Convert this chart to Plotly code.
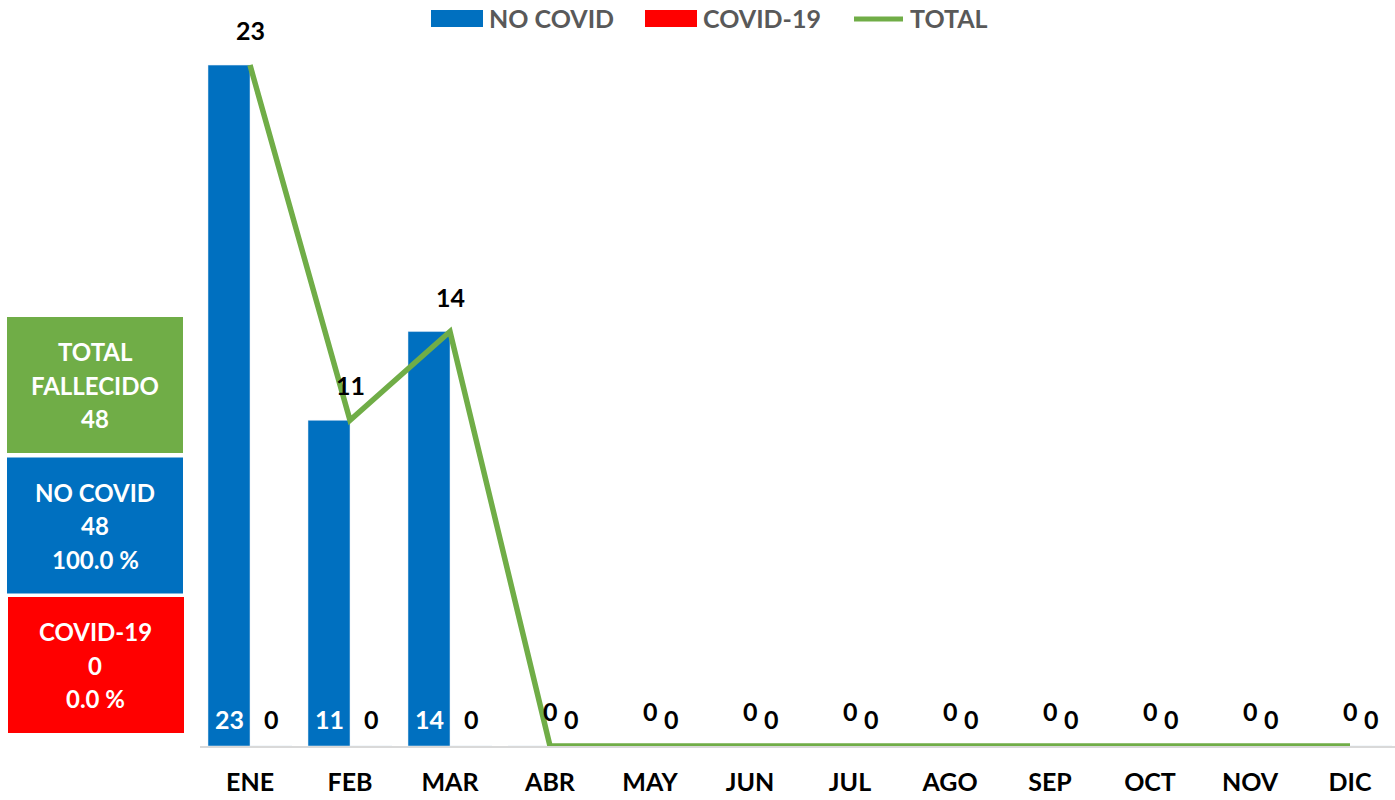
import plotly.graph_objects as go

months = ["ENE", "FEB", "MAR", "ABR", "MAY", "JUN", "JUL", "AGO", "SEP", "OCT", "NOV", "DIC"]
no_covid = [23, 11, 14, 0, 0, 0, 0, 0, 0, 0, 0, 0]
covid = [0, 0, 0, 0, 0, 0, 0, 0, 0, 0, 0, 0]
total = [a + b for a, b in zip(no_covid, covid)]

BLUE = "#0070C0"
RED = "#FF0000"
GREEN = "#70AD47"
FONT = "Lato"

W, H = 1395, 800
L, R, T, B = 200, 0, 21, 54
PW = W - L - R
PH = H - T - B


def px_x(p):
    return (p - L) / PW


def px_y(p):
    return (H - B - p) / PH


fig = go.Figure()
fig.add_trace(go.Bar(x=months, y=no_covid, name="NO COVID", marker_color=BLUE))
fig.add_trace(go.Bar(x=months, y=covid, name="COVID-19", marker_color=RED))
fig.add_trace(go.Scatter(x=months, y=total, name="TOTAL", mode="lines",
                         line=dict(color=GREEN, width=5.5)))

LBL = 25
ann = []
for m, v in zip(months, no_covid):
    if v > 0:
        ann.append(dict(x=m, y=0, text=str(v), xref="x", yref="y", showarrow=False,
                        xshift=-21, yshift=27, font=dict(color="white", size=LBL, family=FONT)))
for m, v in zip(months, covid):
    ann.append(dict(x=m, y=0, text=str(v), xref="x", yref="y", showarrow=False,
                    xshift=21, yshift=27, font=dict(color="black", size=LBL, family=FONT)))
for m, v in zip(months, total):
    ann.append(dict(x=m, y=v, text=str(v), xref="x", yref="y", showarrow=False,
                    yshift=35, font=dict(color="black", size=LBL, family=FONT)))

# summary boxes
sum_total = sum(total)
sum_no = sum(no_covid)
sum_cv = sum(covid)
boxes = [
    (GREEN, ["TOTAL", "FALLECIDO", f"{sum_total}"], 385, 7),
    (BLUE, ["NO COVID", f"{sum_no}", f"{100 * sum_no / sum_total:.1f} %"], 525.5, 7),
    (RED, ["COVID-19", f"{sum_cv}", f"{100 * sum_cv / sum_total:.1f} %"], 665, 8),
]
shapes = []
for color, lines, cy, x0 in boxes:
    shapes.append(dict(type="rect", xref="paper", yref="paper",
                       x0=px_x(x0), x1=px_x(x0 + 176), y0=px_y(cy + 68), y1=px_y(cy - 68),
                       fillcolor=color, line=dict(width=0), layer="above"))
    for i, t in enumerate(lines):
        ann.append(dict(x=px_x(95), y=px_y(cy + (i - 1) * 33.5), xref="paper", yref="paper", text=t,
                        showarrow=False, align="center", xanchor="center", yanchor="middle",
                        font=dict(color="white", size=24, family=FONT)))

# legend drawn manually
legend_items = [("NO COVID", BLUE, 431, "rect"), ("COVID-19", RED, 645, "rect"), ("TOTAL", GREEN, 852, "line")]
for name, color, x0, kind in legend_items:
    if kind == "rect":
        shapes.append(dict(type="rect", xref="paper", yref="paper",
                           x0=px_x(x0), x1=px_x(x0 + 52), y0=px_y(27), y1=px_y(10),
                           fillcolor=color, line=dict(width=0)))
    else:
        shapes.append(dict(type="line", xref="paper", yref="paper",
                           x0=px_x(x0 + 2), x1=px_x(x0 + 51), y0=px_y(19), y1=px_y(19),
                           line=dict(color=color, width=5)))
    ann.append(dict(x=px_x(x0 + 56), y=px_y(18), xref="paper", yref="paper", text=name,
                    showarrow=False, xanchor="left", yanchor="middle",
                    font=dict(color="#595959", size=25, family=FONT)))

fig.update_layout(
    width=W, height=H,
    margin=dict(l=L, r=R, t=T, b=B, autoexpand=False),
    paper_bgcolor="white", plot_bgcolor="white",
    barmode="group", bargap=0.16, bargroupgap=0,
    showlegend=False,
    font=dict(family=FONT, size=22, color="black", weight="bold"),
    annotations=ann, shapes=shapes,
    xaxis=dict(range=[-0.5, 11.45], showgrid=False, showline=True, linecolor="#d9d9d9", linewidth=1.5,
               ticks="outside", ticklen=13, tickcolor="rgba(0,0,0,0)", automargin=False,
               tickfont=dict(size=25, family=FONT, color="black", weight="bold")),
    yaxis=dict(range=[0, 24.49], visible=False, showgrid=False, zeroline=False),
)

fig.write_html("out.html", config={"displayModeBar": False},
               post_script="document.body.style.margin='0px';document.body.style.overflow='hidden';")
